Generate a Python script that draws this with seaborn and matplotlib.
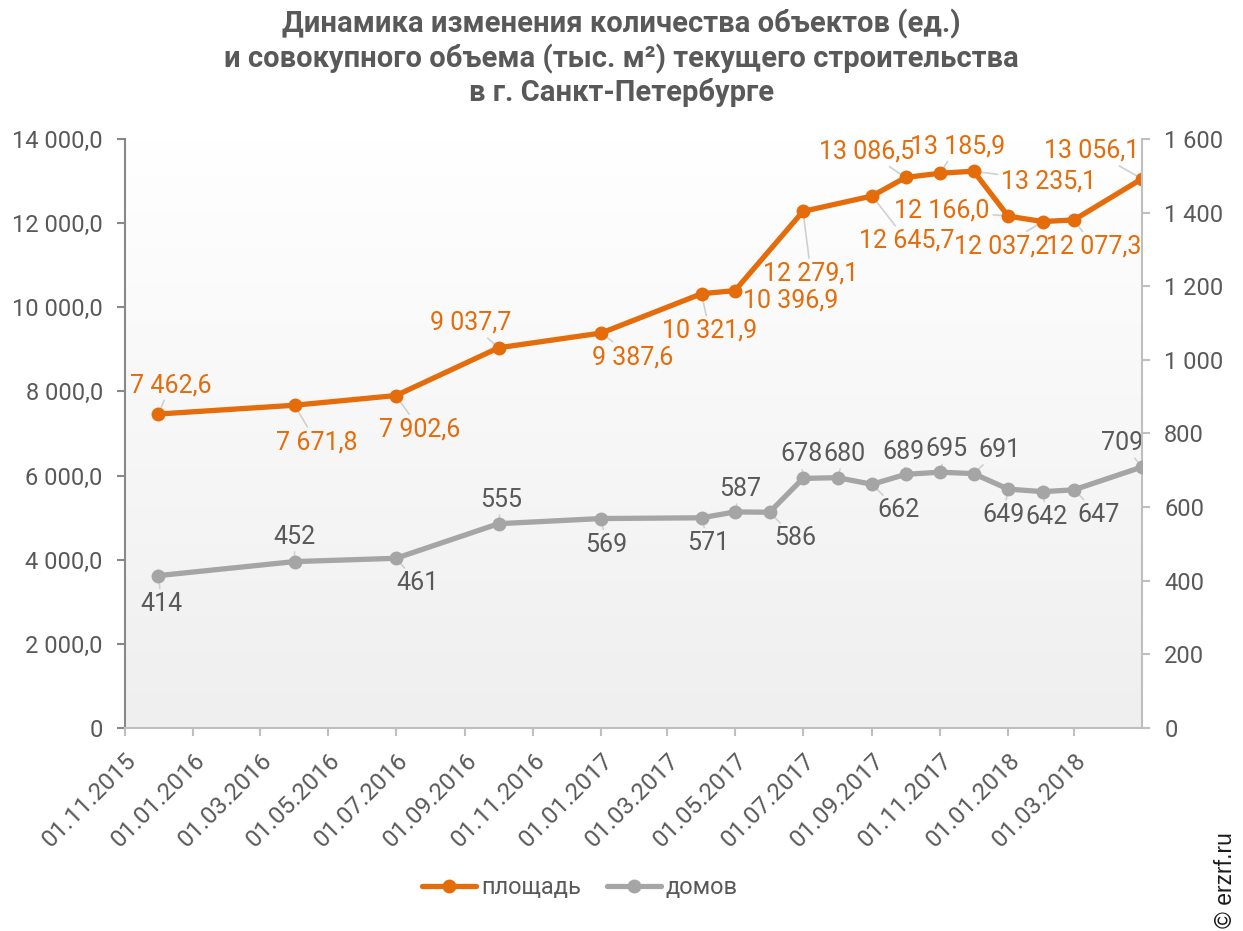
import numpy as np
import pandas as pd
import matplotlib
matplotlib.use("Agg")
import matplotlib.pyplot as plt
from matplotlib.colors import LinearSegmentedColormap
from matplotlib.lines import Line2D
from matplotlib.ticker import FuncFormatter
import seaborn as sns

# ---------------- data ----------------
dates = ["01.12.2015", "01.04.2016", "01.07.2016", "01.10.2016", "01.01.2017",
         "01.04.2017", "01.05.2017", "01.06.2017", "01.07.2017", "01.08.2017",
         "01.09.2017", "01.10.2017", "01.11.2017", "01.12.2017", "01.01.2018",
         "01.02.2018", "01.03.2018", "01.05.2018"]
area = [7462.6, 7671.8, 7902.6, 9037.7, 9387.6,
        10321.9, 10396.9, np.nan, 12279.1, np.nan,
        12645.7, 13086.5, 13185.9, 13235.1, 12166.0,
        12037.2, 12077.3, 13056.1]
houses = [414, 452, 461, 555, 569,
          571, 587, 586, 678, 680,
          662, 689, 695, 691, 649,
          642, 647, 709]
series_names = ["площадь", "домов"]
tick_labels = ["01.11.2015", "01.01.2016", "01.03.2016", "01.05.2016", "01.07.2016",
               "01.09.2016", "01.11.2016", "01.01.2017", "01.03.2017", "01.05.2017",
               "01.07.2017", "01.09.2017", "01.11.2017", "01.01.2018", "01.03.2018"]
title = ("Динамика изменения количества объектов (ед.)\n"
         "и совокупного объема (тыс. м²) текущего строительства\n"
         "в г. Санкт-Петербурге")

# label offsets in pixels (dx right, dy down) -- styling only
area_off = [(12, -29), (22, 37), (24, 34), (-28, -25), (32, 24),
            (8, 37), (56, 10), None, (8, 62), None,
            (35, 45), (-39, -26), (17, -27), (75, 10), (-66, -6),
            (-41, 25), (20, 27), (-50, -28)]
house_off = [(3, 28), (0, -25), (22, 25), (3, -24), (5, 26),
             (7, 25), (5, -23), (26, 26), (-2, -24), (7, -24),
             (26, 26), (-2, -22), (6, -23), (26, -24), (-5, 26),
             (4, 25), (25, 25), (-20, -24)]

ORANGE = "#E46C0A"
GRAY = "#A5A5A5"
TXT = "#595959"

df = pd.DataFrame({"date": pd.to_datetime(dates, format="%d.%m.%Y"),
                   "area": area, "houses": houses})
df_area = df.dropna(subset=["area"])

sns.set_style("white")
plt.rcParams["font.family"] = ["Roboto", "DejaVu Sans"]

W, H = 1243, 931
fig = plt.figure(figsize=(W / 100, H / 100), dpi=100)
L, R, T, B = 125, 1142, 139, 728
ax1 = fig.add_axes([L / W, 1 - B / H, (R - L) / W, (B - T) / H])
ax2 = ax1.twinx()

# gradient background
cmap = LinearSegmentedColormap.from_list("g", ["#EFEFEF", "#FFFFFF"])
grad = np.linspace(1, 0, 256)[:, None]
ax1.imshow(grad, extent=[0, 1, 0, 1], transform=ax1.transAxes, aspect="auto",
           cmap=cmap, zorder=0, interpolation="bilinear")
ax1.patch.set_visible(False)
ax2.patch.set_visible(False)

sns.lineplot(data=df_area, x="date", y="area", ax=ax1, color=ORANGE, linewidth=3.8,
             marker="o", markersize=10, markeredgewidth=0, legend=False, zorder=3)
sns.lineplot(data=df, x="date", y="houses", ax=ax2, color=GRAY, linewidth=3.8,
             marker="o", markersize=10, markeredgewidth=0, legend=False, zorder=3)

def ru(v, dec):
    s = f"{v:,.{dec}f}"
    return s.replace(",", " ").replace(".", ",")

LBL = 18
for d, v, off in zip(df["date"], df["area"], area_off):
    if off is None or np.isnan(v):
        continue
    ax1.annotate(ru(v, 1), xy=(d, v), xytext=(off[0], -off[1]), textcoords="offset pixels",
                 ha="center", va="center", fontsize=LBL, color=ORANGE, zorder=2,
                 arrowprops=dict(arrowstyle="-", color="#D0D0D0", lw=1.2, shrinkA=0, shrinkB=2))
for d, v, off in zip(df["date"], df["houses"], house_off):
    ax2.annotate(ru(v, 0), xy=(d, v), xytext=(off[0], -off[1]), textcoords="offset pixels",
                 ha="center", va="center", fontsize=LBL, color=TXT, zorder=2,
                 arrowprops=dict(arrowstyle="-", color="#D0D0D0", lw=1.2, shrinkA=0, shrinkB=2))

# axes
ax1.set_xlim(pd.Timestamp("2015-11-01"), pd.Timestamp("2018-05-01"))
ax1.set_ylim(0, 14000)
ax2.set_ylim(0, 1600)
ax1.set_yticks(np.arange(0, 14001, 2000))
ax2.set_yticks(np.arange(0, 1601, 200))
ax1.yaxis.set_major_formatter(FuncFormatter(lambda v, p: "0" if v == 0 else ru(v, 1)))
ax2.yaxis.set_major_formatter(FuncFormatter(lambda v, p: "0" if v == 0 else ru(v, 0)))
tick_dates = pd.to_datetime(tick_labels, format="%d.%m.%Y")
ax1.set_xticks(tick_dates)
ax1.set_xticklabels(tick_labels, rotation=45, ha="right", rotation_mode="anchor")
ax1.set_xlabel("")
ax1.set_ylabel("")
ax2.set_ylabel("")

for ax in (ax1, ax2):
    for s in ax.spines.values():
        s.set_visible(False)
ax1.spines["left"].set_visible(True)
ax1.spines["left"].set_color("#888888")
ax1.spines["bottom"].set_visible(True)
ax1.spines["bottom"].set_color("#BFBFBF")
ax2.spines["right"].set_visible(True)
ax2.spines["right"].set_color("#BFBFBF")
for s in (ax1.spines["left"], ax1.spines["bottom"], ax2.spines["right"]):
    s.set_linewidth(1.5)

ax1.tick_params(axis="y", left=True, length=6, width=1.5, color="#888888",
                labelsize=17, labelcolor=TXT, pad=10)
ax1.tick_params(axis="x", bottom=True, length=6, width=1.5, color="#BFBFBF",
                labelsize=17.5, labelcolor=TXT, pad=9)
ax2.tick_params(axis="y", right=True, length=6, width=1.5, color="#BFBFBF",
                labelsize=17, labelcolor=TXT, pad=10)
ax1.grid(False)
ax2.grid(False)

fig.text(0.5, 1 - 9 / H, title, ha="center", va="top", fontsize=21, fontweight="bold",
         color=TXT, linespacing=1.2)

handles = [Line2D([], [], color=ORANGE, lw=3.8, marker="o", markersize=10, markeredgewidth=0),
           Line2D([], [], color=GRAY, lw=3.8, marker="o", markersize=10, markeredgewidth=0)]
fig.legend(handles, series_names, loc="center", bbox_to_anchor=(580 / W, 1 - 888 / H),
           ncol=2, frameon=False, fontsize=17, handlelength=2.3, handletextpad=0.2,
           columnspacing=1.1, labelcolor=TXT)

fig.text(1226 / W, 3 / H, "© erzrf.ru", rotation=90, ha="center", va="bottom",
         fontsize=16.5, color="#1A1A1A", family=["Liberation Sans", "DejaVu Sans"])

fig.savefig("out.png", dpi=100)
